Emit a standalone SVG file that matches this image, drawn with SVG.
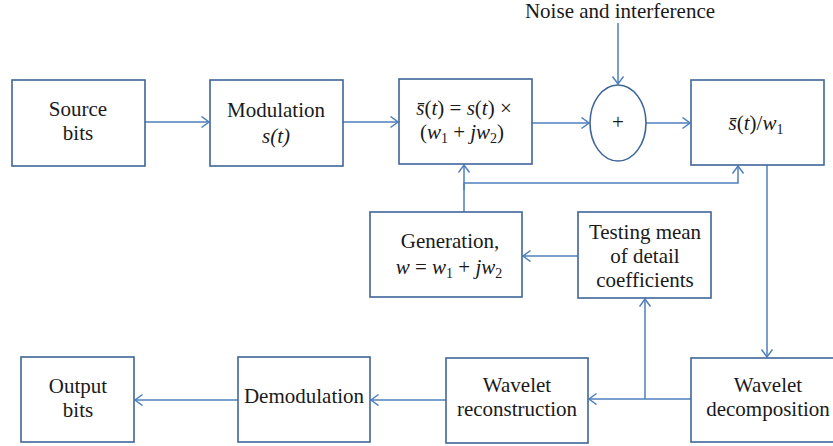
<svg xmlns="http://www.w3.org/2000/svg" width="833" height="446" viewBox="0 0 833 446" font-family="Liberation Serif">
<style>
.box{fill:#fff;stroke:#3f6699;stroke-width:1.6}
.ln{fill:none;stroke:#4f7fbd;stroke-width:1.5}
.t{font-family:'Liberation Serif',serif;font-size:21px;fill:#1a1a1a;text-anchor:middle}
.i{font-style:italic}
.sub{font-size:14px;font-style:normal}
</style>
<defs>
<marker id="ah" markerUnits="userSpaceOnUse" markerWidth="12" markerHeight="14" refX="8.5" refY="6" orient="auto">
<path d="M1,0.5 L8.5,6 L1,11.5" fill="none" stroke="#4f7fbd" stroke-width="1.5"/>
</marker>
</defs>
<rect width="833" height="446" fill="#fff"/>
<g id="connectors">
<line class="ln" x1="145" y1="122" x2="209" y2="122" marker-end="url(#ah)"/>
<line class="ln" x1="343" y1="122" x2="398" y2="122" marker-end="url(#ah)"/>
<line class="ln" x1="532" y1="123" x2="589" y2="123" marker-end="url(#ah)"/>
<line class="ln" x1="618" y1="23" x2="618" y2="84" marker-end="url(#ah)"/>
<line class="ln" x1="646" y1="123" x2="690" y2="123" marker-end="url(#ah)"/>
<polyline class="ln" points="464,212 464,183 738,183 738,166" marker-end="url(#ah)"/>
<line class="ln" x1="464" y1="190" x2="464" y2="165" marker-end="url(#ah)"/>
<line class="ln" x1="578" y1="256" x2="523" y2="256" marker-end="url(#ah)"/>
<line class="ln" x1="767" y1="165" x2="767" y2="357" marker-end="url(#ah)"/>
<line class="ln" x1="691" y1="399" x2="589" y2="399" marker-end="url(#ah)"/>
<line class="ln" x1="645" y1="399" x2="645" y2="299" marker-end="url(#ah)"/>
<line class="ln" x1="446" y1="400" x2="371" y2="400" marker-end="url(#ah)"/>
<line class="ln" x1="238" y1="400" x2="135" y2="400" marker-end="url(#ah)"/>
</g>
<g id="noise"><text class="t" x="620" y="18">Noise and interference</text></g>
<g id="source"><rect class="box" x="12" y="80" width="133" height="86"/><text class="t" x="78" y="116">Source</text><text class="t" x="78" y="140">bits</text></g>
<g id="modulation"><rect class="box" x="210" y="80" width="133" height="86"/><text class="t" x="276" y="117">Modulation</text><text class="t i" x="276" y="143">s(t)</text></g>
<g id="multiply"><rect class="box" x="399" y="79" width="133" height="85"/>
<text class="t" x="464" y="115"><tspan class="i">s̄</tspan>(<tspan class="i">t</tspan>) = <tspan class="i">s</tspan>(<tspan class="i">t</tspan>) ×</text>
<text class="t" x="462" y="139">(<tspan class="i">w</tspan><tspan class="sub" dy="4">1</tspan><tspan dy="-4"> + </tspan><tspan class="i">jw</tspan><tspan class="sub" dy="4">2</tspan><tspan dy="-4">)</tspan></text></g>
<g id="adder"><ellipse cx="618" cy="123" rx="28" ry="38" fill="#fff" stroke="#3f6699" stroke-width="1.6"/><text class="t" x="618" y="129">+</text></g>
<g id="divide"><rect class="box" x="691" y="80" width="133" height="85"/>
<text class="t" x="756" y="130"><tspan class="i">s̄</tspan>(<tspan class="i">t</tspan>)/<tspan class="i">w</tspan><tspan class="sub" dy="4">1</tspan></text></g>
<g id="generation"><rect class="box" x="370" y="212" width="152" height="85"/>
<text class="t" x="450" y="248">Generation,</text>
<text class="t" x="449" y="274"><tspan class="i">w</tspan> = <tspan class="i">w</tspan><tspan class="sub" dy="4">1</tspan><tspan dy="-4"> + </tspan><tspan class="i">jw</tspan><tspan class="sub" dy="4">2</tspan></text></g>
<g id="testing"><rect class="box" x="578" y="212" width="133" height="86"/>
<text class="t" x="645" y="239">Testing mean</text><text class="t" x="645" y="263">of detail</text><text class="t" x="645" y="287">coefficients</text></g>
<g id="decomposition"><rect class="box" x="691" y="358" width="150" height="84"/>
<text class="t" x="768" y="392">Wavelet</text><text class="t" x="768" y="416">decomposition</text></g>
<g id="reconstruction"><rect class="box" x="446" y="358" width="142" height="85"/>
<text class="t" x="517" y="392">Wavelet</text><text class="t" x="517" y="416">reconstruction</text></g>
<g id="demodulation"><rect class="box" x="238" y="357" width="132" height="85"/><text class="t" x="304" y="403">Demodulation</text></g>
<g id="output"><rect class="box" x="21" y="357" width="113" height="85"/><text class="t" x="78" y="393">Output</text><text class="t" x="78" y="417">bits</text></g>
</svg>
